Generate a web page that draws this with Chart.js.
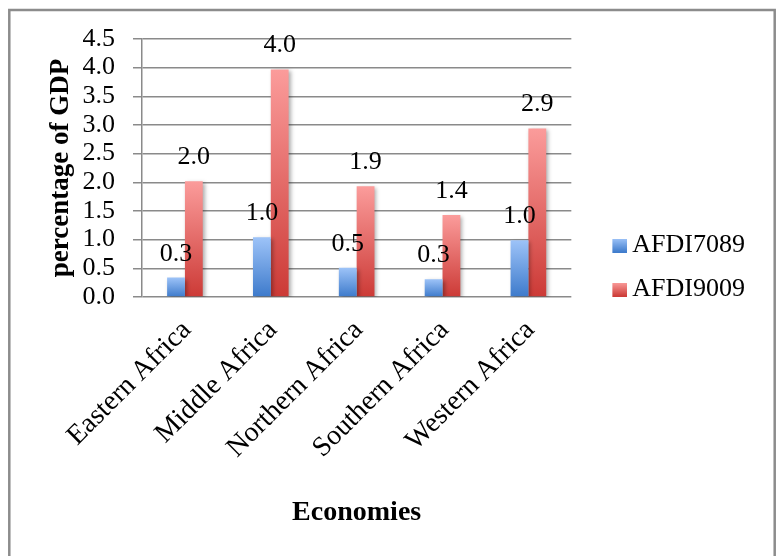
<!DOCTYPE html>
<html>
<head>
<meta charset="utf-8">
<script src="https://cdn.jsdelivr.net/npm/chart.js@4.4.1/dist/chart.umd.min.js"></script>
<style>
  html, body { margin: 0; padding: 0; background: #ffffff; }
  canvas { display: block; }
</style>
</head>
<body>
<canvas id="chart" width="782" height="556"></canvas>
<script>
// Categories and series (percentage of GDP)
const categories = ['Eastern Africa', 'Middle Africa', 'Northern Africa', 'Southern Africa', 'Western Africa'];
const afdi7089 = [0.34, 1.04, 0.51, 0.31, 0.99];
const afdi9009 = [2.02, 3.97, 1.93, 1.43, 2.94];
const seriesNames = ['AFDI7089', 'AFDI9009'];
const yMin = 0;
const yMax = 4.5;
const yStep = 0.5;

const SERIF = "'Liberation Serif', 'Times New Roman', serif";
const GRID = '#8a8a8a';
const BLUE = { light: '#9dc3f8', dark: '#3d7acb' };
const RED = { light: '#fb9c9b', dark: '#cc3a36' };

// Vertical gradient running from each bar's top to the baseline
function barFill(colors) {
  return (ctx) => {
    const chart = ctx.chart;
    if (!chart.chartArea || ctx.type !== 'data') return colors.dark;
    const y = chart.scales.y;
    const top = y.getPixelForValue(ctx.raw);
    const base = y.getPixelForValue(0);
    if (!isFinite(top) || !isFinite(base) || top === base) return colors.dark;
    const g = chart.ctx.createLinearGradient(0, top, 0, base);
    g.addColorStop(0, colors.light);
    g.addColorStop(1, colors.dark);
    return g;
  };
}

// Legend swatch: gradient square placed at the right of a transparent strip
function swatch(colors) {
  const c = document.createElement('canvas');
  c.width = 46; c.height = 14;
  const x = c.getContext('2d');
  const g = x.createLinearGradient(0, 0, 0, 14);
  g.addColorStop(0, colors.light);
  g.addColorStop(1, colors.dark);
  x.fillStyle = g;
  x.fillRect(31, 0, 15, 14);
  return c;
}
const swatches = [swatch(BLUE), swatch(RED)];

// Outer frame of the chart
const framePlugin = {
  id: 'frame',
  beforeDraw(chart) {
    const c = chart.ctx;
    c.save();
    c.fillStyle = '#ffffff';
    c.fillRect(0, 0, chart.width, chart.height);
    c.strokeStyle = '#8c8c8c';
    c.lineWidth = 2.5;
    c.strokeRect(9.3, 10, 765.4, 600);
    c.restore();
  }
};

// Soft bar shadow plus the value written above each bar
const barDecor = {
  id: 'barDecor',
  beforeDatasetsDraw(chart) {
    const c = chart.ctx;
    c.save();
    c.shadowColor = 'rgba(0,0,0,0.32)';
    c.shadowBlur = 4;
    c.shadowOffsetX = 2;
    c.shadowOffsetY = 2;
  },
  afterDatasetsDraw(chart) {
    const c = chart.ctx;
    c.restore();
    c.save();
    c.font = '26px ' + SERIF;
    c.fillStyle = '#000000';
    c.textAlign = 'center';
    c.textBaseline = 'alphabetic';
    chart.data.datasets.forEach((ds, di) => {
      const meta = chart.getDatasetMeta(di);
      meta.data.forEach((bar, i) => {
        c.fillText(ds.data[i].toFixed(1), bar.x, bar.y - 17);
      });
    });
    c.restore();
  }
};

new Chart(document.getElementById('chart'), {
  type: 'bar',
  data: {
    labels: categories,
    datasets: [
      { label: seriesNames[0], data: afdi7089, backgroundColor: barFill(BLUE) },
      { label: seriesNames[1], data: afdi9009, backgroundColor: barFill(RED) }
    ]
  },
  options: {
    responsive: false,
    devicePixelRatio: 1,
    animation: false,
    categoryPercentage: 0.415,
    barPercentage: 1.0,
    layout: { padding: { top: 5, bottom: 26, left: 10, right: 27 } },
    plugins: {
      tooltip: { enabled: false },
      title: {
        display: true,
        text: '',
        font: { size: 10, lineHeight: 1 },
        padding: { top: 0, bottom: 24 }
      },
      legend: {
        position: 'right',
        align: 'center',
        labels: {
          usePointStyle: true,
          pointStyleWidth: 30,
          padding: 18,
          color: '#000000',
          font: { family: SERIF, size: 26 },
          generateLabels(chart) {
            const items = Chart.defaults.plugins.legend.labels.generateLabels(chart);
            items.forEach((it, i) => { it.pointStyle = swatches[i]; it.lineWidth = 0; });
            return items;
          }
        }
      }
    },
    scales: {
      x: {
        ticks: {
          maxRotation: 45,
          minRotation: 45,
          autoSkip: false,
          padding: 9,
          labelOffset: 2,
          color: '#000000',
          font: { family: SERIF, size: 28 }
        },
        grid: { display: false },
        border: { display: false },
        title: {
          display: true,
          text: 'Economies',
          color: '#000000',
          font: { family: SERIF, size: 28, weight: 'bold' },
          padding: { top: 0, bottom: 0 }
        },
        afterFit(s) { s.height = 233; }
      },
      y: {
        min: yMin,
        max: yMax,
        ticks: {
          stepSize: yStep,
          autoSkip: false,
          padding: 18,
          color: '#000000',
          font: { family: SERIF, size: 26 },
          callback: (v) => Number(v).toFixed(1)
        },
        grid: { color: GRID, lineWidth: 1.5, tickLength: 9, tickColor: GRID },
        border: { display: true, color: GRID, width: 1.5 },
        title: {
          display: true,
          text: 'percentage of GDP',
          color: '#000000',
          font: { family: SERIF, size: 27, weight: 'bold' },
          padding: { top: 35, bottom: 0 }
        },
        afterFit(s) { s.width = 132; }
      }
    }
  },
  plugins: [framePlugin, barDecor]
});
</script>
</body>
</html>
